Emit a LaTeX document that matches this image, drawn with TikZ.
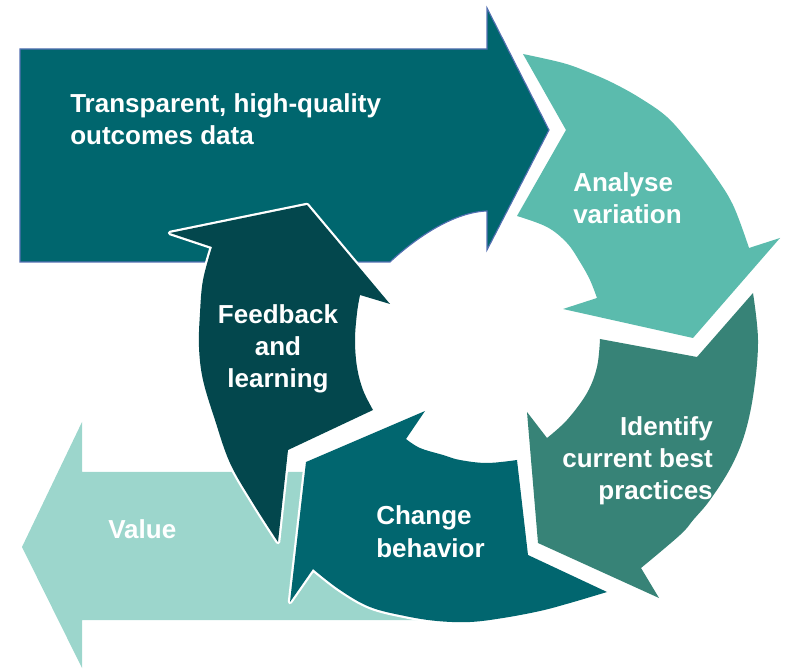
\documentclass[tikz,border=0pt]{standalone}
\usepackage{fontspec}
\setmainfont{Liberation Sans}
\usetikzlibrary{positioning}
\definecolor{topTeal}{RGB}{0,102,110}
\definecolor{analyseGreen}{RGB}{91,187,173}
\definecolor{identifyGreen}{RGB}{55,131,119}
\definecolor{changeTeal}{RGB}{1,102,111}
\definecolor{feedbackDark}{RGB}{3,71,77}
\definecolor{valueMint}{RGB}{156,214,204}
\definecolor{edgeBlue}{RGB}{84,112,178}
\tikzset{
  cyclearrow/.style={preaction={draw=white, line width=3.2pt, line join=round}},
  flowtext/.style={text=white, inner sep=0pt, font=\fontsize{18.5}{22.8}\selectfont\bfseries},
  arcplot/.style={smooth, tension=0.6}
}

\begin{document}
\begin{tikzpicture}[x=0.025cm, y=-0.025cm]
  \useasboundingbox (0,0) rectangle (791,669);
  % background arrows
  \fill[valueMint] (22,547) -- (82,422) -- (82,472) -- (480,472) -- (480,620) -- (82,620) -- (82,668) -- cycle;
  \filldraw[draw=edgeBlue, line width=0.8pt, fill=topTeal] (20,49) -- (487,49) -- (487,8) -- (549,130) -- (487,250) -- (487,211)
    .. controls (455,212) and (418,236) .. (390,262) -- (20,262) -- cycle;
  % the cycle
  \fill[cyclearrow, analyseGreen] (523,54) -- (566,130) -- (517,216)
    -- plot[arcplot] coordinates {(517,216) (547,227) (567,243) (580,262) (590,280) (597,298)}
    -- (563,309) -- (693,338) -- (780,238) -- (749,248)
    -- plot[arcplot] coordinates {(749,248) (733,205) (713,173) (690,143) (667,117) (640,98) (613,83) (588,72) (563,63) (523,54)}
    -- cycle;
  \fill[cyclearrow, identifyGreen] (753,293) -- (697,357) -- (600,339)
    -- plot[arcplot] coordinates {(600,339) (597,367) (587,393) (567,420) (547,438)}
    -- (527,412) -- (538,543) -- (659,598) -- (641,568)
    -- plot[arcplot] coordinates {(641,568) (680,535) (694,519) (710,500) (731,467) (745,433) (754,390) (758,340) (753,293)}
    -- cycle;
  \fill[cyclearrow, changeTeal] (607,592) -- (528,555) -- (517,460)
    -- plot[arcplot] coordinates {(517,460) (487,463) (460,460) (443,455) (420,448) (406,439)}
    -- (425,411) -- (306,462) -- (290,602) -- (313,569)
    -- plot[arcplot] coordinates {(313,569) (340,590) (370,607) (405,616) (437,621) (470,622) (503,618) (540,611) (570,603) (607,592)}
    -- cycle;
  \fill[cyclearrow, feedbackDark] (278,542) -- (288,450) -- (373,410)
    -- plot[arcplot] coordinates {(373,410) (363,390) (357,367) (355,340) (357,313) (360,295)}
    -- (390,304) -- (307,205) -- (170,233) -- (212,247)
    -- plot[arcplot] coordinates {(212,247) (203,280) (200,313) (199,347) (203,380) (215,420) (230,463) (253,503) (278,542)}
    -- cycle;
  % labels, placed by the baseline of their last line
  \node[flowtext, anchor=base west, align=left] (outcomes) at (70,145) {Transparent, high-quality\\outcomes data};
  \node[flowtext, anchor=base west, align=left] (analyse) at (573,224) {Analyse\\variation};
  \node[flowtext, anchor=base east, align=right] (identify) at (713,500) {Identify\\current best\\practices};
  \node[flowtext, anchor=base west, align=left] (change) at (376,557) {Change\\behavior};
  \node[flowtext, anchor=base, align=center] (feedback) at (278,388) {Feedback\\and\\learning};
  \node[flowtext, anchor=base west] (value) at (108,539) {Value};
\end{tikzpicture}
\end{document}
